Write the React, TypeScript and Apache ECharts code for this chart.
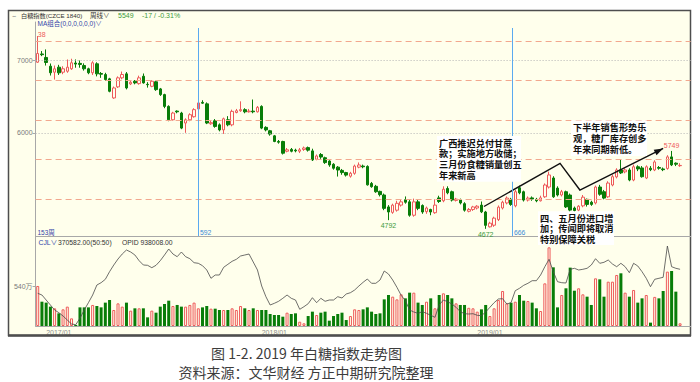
import React, { useEffect, useRef } from 'react';
import * as echarts from 'echarts';

// ---------------- data ----------------
const firstWeek = '2016-12-02';
const closedWeeks = ['2017-10-06', '2018-10-05', '2019-02-08'];

const opens = [
  6976, 7090, 7042, 6921, 6838, 6907, 6838, 6851, 6885, 6965,
  6960, 6930, 6885, 6830, 6954, 6820, 6805, 6746, 6482, 6635,
  6760, 6815, 6676, 6713, 6680, 6782, 6670, 6643, 6705, 6607,
  6528, 6365, 6180, 6300, 6273, 6135, 6180, 6222, 6330, 6420,
  6400, 6125, 6167, 6110, 6040, 6180, 6110, 6280, 6305, 6320,
  6290, 6300, 6290, 6365, 6075, 6028, 5958, 5880, 5880, 5745,
  5770, 5760, 5745, 5770, 5795, 5750, 5635, 5700, 5655, 5610,
  5565, 5525, 5480, 5450, 5400, 5440, 5525, 5540, 5535, 5300,
  5260, 5190, 5140, 4975, 4900, 4930, 5000, 5075, 5045, 4860,
  5045, 4995, 4910, 4940, 4895, 5100, 5060, 5230, 5185, 5065,
  5070, 5020, 4915, 4940, 4960, 5000, 4905, 4700, 4722, 4800,
  4960, 5030, 5080, 4990, 5240, 5185, 5070, 5100, 5080, 5060,
  5115, 5250, 5375, 5235, 5140, 5185, 5139, 4960, 4931, 4990,
  5080, 5040, 5030, 5250, 5185, 5115, 5278, 5390, 5486, 5460,
  5486, 5347, 5530, 5514, 5375, 5510, 5486, 5520, 5500, 5507,
  5667, 5580, 5545,
];
const closes = [
  7097, 7080, 6972, 6830, 6885, 6829, 6885, 6907, 6968, 6950,
  6945, 6885, 6830, 6968, 6815, 6810, 6736, 6574, 6620, 6760,
  6806, 6620, 6699, 6690, 6760, 6690, 6665, 6713, 6597, 6528,
  6365, 6180, 6273, 6290, 6065, 6180, 6250, 6320, 6413, 6410,
  6135, 6140, 6088, 6040, 6194, 6110, 6296, 6305, 6320, 6290,
  6300, 6290, 6352, 6065, 6040, 5982, 5880, 5870, 5718, 5765,
  5745, 5750, 5765, 5790, 5760, 5625, 5680, 5665, 5588, 5555,
  5510, 5485, 5450, 5415, 5440, 5540, 5555, 5530, 5280, 5255,
  5185, 5145, 4955, 4905, 5000, 5025, 5045, 5040, 4860, 5045,
  4955, 4905, 4960, 4905, 5000, 5050, 5220, 5170, 5070, 5083,
  5030, 4930, 4940, 4975, 4985, 4907, 4720, 4750, 4820, 4972,
  5040, 5097, 5010, 5185, 5170, 5070, 5097, 5085, 5060, 5100,
  5278, 5417, 5115, 5140, 5185, 4975, 4931, 4925, 4985, 5110,
  5010, 5010, 5250, 5150, 5097, 5305, 5393, 5486, 5445, 5486,
  5347, 5530, 5500, 5393, 5530, 5490, 5597, 5510, 5490, 5667,
  5556, 5566, 5549,
];
const lows = [
  6965, 7060, 6930, 6792, 6736, 6800, 6810, 6830, 6870, 6900,
  6900, 6860, 6810, 6800, 6780, 6760, 6720, 6560, 6470, 6620,
  6740, 6600, 6660, 6670, 6665, 6680, 6625, 6630, 6580, 6510,
  6340, 6160, 6170, 6270, 6050, 6000, 6160, 6210, 6310, 6400,
  6120, 6110, 6070, 6020, 5985, 6090, 6090, 6270, 6290, 6270,
  6280, 6270, 6280, 6050, 6020, 5960, 5870, 5850, 5700, 5730,
  5730, 5730, 5720, 5750, 5740, 5610, 5620, 5640, 5570, 5530,
  5490, 5395, 5420, 5395, 5380, 5420, 5510, 5510, 5270, 5240,
  5170, 5120, 4930, 4792, 4880, 4910, 4980, 5020, 4840, 4840,
  4930, 4880, 4880, 4860, 4880, 5030, 5040, 5150, 5050, 5050,
  5010, 4910, 4900, 4920, 4940, 4890, 4672, 4690, 4700, 4780,
  4940, 5010, 4990, 4970, 5150, 5050, 5050, 5060, 5040, 5050,
  5100, 5230, 5100, 5120, 5120, 4960, 4900, 4900, 4910, 4970,
  4980, 4990, 5010, 5130, 5080, 5100, 5260, 5370, 5430, 5440,
  5330, 5330, 5470, 5380, 5360, 5470, 5470, 5490, 5470, 5490,
  5540, 5540, 5530,
];
const highs = [
  7338, 7130, 7153, 6958, 6930, 6940, 6920, 7014, 7024, 7014,
  7000, 6960, 6900, 6990, 6975, 6840, 6830, 6760, 6640, 6780,
  6847, 6840, 6720, 6730, 6790, 6820, 6700, 6730, 6720, 6620,
  6540, 6380, 6290, 6310, 6290, 6200, 6270, 6340, 6430, 6450,
  6420, 6170, 6190, 6130, 6210, 6230, 6320, 6330, 6435, 6340,
  6330, 6460, 6370, 6380, 6090, 6040, 5970, 5900, 5890, 5790,
  5790, 5780, 5790, 5810, 5810, 5780, 5700, 5720, 5670, 5620,
  5580, 5540, 5500, 5460, 5460, 5560, 5590, 5560, 5550, 5320,
  5280, 5200, 5160, 5000, 5020, 5060, 5080, 5120, 5070, 5090,
  5080, 5010, 4980, 4950, 5080, 5130, 5260, 5260, 5200, 5100,
  5090, 5040, 4960, 4990, 5000, 5050, 4920, 4770, 4840, 4995,
  5060, 5120, 5100, 5210, 5270, 5200, 5120, 5120, 5100, 5130,
  5300, 5463, 5400, 5260, 5210, 5200, 5160, 4980, 5000, 5140,
  5090, 5060, 5270, 5280, 5210, 5330, 5420, 5510, 5625, 5510,
  5510, 5560, 5550, 5540, 5550, 5540, 5620, 5540, 5520, 5690,
  5749, 5590, 5580,
];
// weekly volume, 万手
const volumes = [
  550, 334, 321, 266, 243, 174, 229, 266, 105, 14,
  256, 256, 256, 289, 275, 256, 321, 357, 220, 311,
  266, 321, 211, 243, 243, 243, 119, 211, 183, 266,
  302, 348, 275, 289, 266, 266, 289, 321, 243, 256,
  275, 238, 238, 220, 220, 220, 243, 220, 275, 243,
  220, 243, 220, 220, 220, 165, 151, 151, 128, 183,
  165, 174, 59, 37, 137, 197, 151, 183, 197, 73,
  137, 165, 183, 82, 137, 229, 220, 229, 256, 197,
  165, 174, 366, 426, 403, 366, 435, 380, 458, 458,
  321, 289, 334, 380, 243, 426, 449, 426, 380, 311,
  289, 289, 250, 243, 197, 229, 289, 137, 243, 357,
  481, 311, 321, 334, 426, 348, 343, 321, 243, 206,
  586, 1081, 806, 256, 426, 518, 802, 485, 518, 435,
  403, 289, 655, 641, 403, 609, 609, 701, 724, 458,
  403, 495, 321, 380, 426, 46, 400, 380, 481, 747,
  756, 472, 37.0582,
];
// open interest, 万手
const openInterest = [
  69.8, 68.1, 63.1, 58.1, 53.1, 50.4, 47.1, 43.1, 39.1, 38.4,
  44.8, 53.1, 60.4, 68.1, 78.1, 80.4, 83.8, 91.4, 98.1, 104.1,
  109.1, 113.1, 111.1, 108.1, 102.4, 98.1, 97.8, 95.4, 97.8, 102.4,
  108.1, 114.1, 109.1, 106.4, 111.1, 106.4, 104.4, 100.4, 99.8, 97.4,
  93.1, 84.8, 88.1, 88.1, 95.8, 98.8, 101.8, 103.8, 107.1, 108.1,
  109.1, 101.1, 93.1, 77.1, 66.4, 58.1, 59.8, 61.8, 64.8, 68.1,
  64.8, 63.1, 53.8, 56.4, 59.4, 65.4, 60.4, 64.8, 61.8, 63.1,
  63.1, 66.4, 65.1, 69.1, 70.4, 73.1, 77.1, 80.8, 84.1, 79.8,
  79.8, 83.1, 92.1, 89.1, 83.1, 75.8, 67.8, 62.4, 53.1, 51.1,
  49.8, 51.4, 49.8, 47.8, 45.8, 58.1, 63.1, 61.4, 59.1, 55.8,
  51.4, 49.4, 49.1, 49.4, 47.8, 47.4, 51.1, 55.8, 60.4, 64.1,
  64.4, 59.1, 60.4, 72.4, 74.8, 77.8, 79.8, 82.4, 82.4, 88.1,
  96.4, 103.8, 91.4, 81.4, 80.4, 80.1, 93.8, 94.8, 93.1, 93.8,
  94.8, 98.1, 104.4, 99.8, 100.8, 103.1, 99.1, 96.4, 99.8, 96.4,
  90.4, 99.8, 97.1, 91.4, 84.8, 76.4, 83.8, 84.8, 85.8, 117.1,
  96.4, 94.8, 93.8008,
];

const dashedLevels = [7260, 6721, 6173, 5628, 5077];
const dottedLevels = [6000, 7000];
const priceTicks = [6000, 7000];
const volumeTicks = [540];
const markedWeeks = [
  { index: 38, text: '592' },
  { index: 112, text: '666' },
];
const extremeLabels = [
  { index: 0, field: 'high', clip: true },
  { index: 83, field: 'low', clip: false },
  { index: 106, field: 'low', clip: false },
  { index: 150, field: 'high', clip: false },
];
const notes = [
  { lines: ['广西推迟兑付甘蔗', '款；实施地方收储；', '三月份食糖销量创五', '年来新高'], x: 439, y: 142.5, lh: 10.9, w: 84 },
  { lines: ['下半年销售形势乐', '观，糖厂库存创多', '年来同期新低。'], x: 573, y: 127, lh: 11.2, w: 76 },
  { lines: ['四、五月份进口增', '加；传闻即将取消', '特别保障关税'], x: 540, y: 217.6, lh: 10.6, w: 76 },
];
// trend arrow, in (week index, price)
const trendPoints = [
  [105.6, 4981],
  [123.6, 5578],
  [128.3, 5209],
  [148.0, 5783],
];
const captionTitle = '图 1-2. 2019 年白糖指数走势图';
const captionSource = '资料来源：文华财经 方正中期研究院整理';

// ---------------- styling ----------------
const FONT = "'Liberation Sans', 'Noto Sans CJK SC', sans-serif";
const CJK = "'Noto Sans CJK SC', sans-serif";
const BG = '#FFFFEC';
const UP = '#EE5A5A';
const DOWN = '#087D08';
const LABEL_GREEN = '#3C9A3C';
const BLUE_TXT = '#3344A8';
const MARK_BLUE = '#5AAAF0';

function weekDates(count: number): string[] {
  const out: string[] = [];
  const d = new Date(firstWeek + 'T00:00:00Z');
  while (out.length < count) {
    const s = d.toISOString().slice(0, 10);
    if (!closedWeeks.includes(s)) out.push(s);
    d.setUTCDate(d.getUTCDate() + 7);
  }
  return out;
}

export default function App() {
  const ref = useRef<HTMLDivElement>(null);

  useEffect(() => {
    document.body.style.margin = '0';
    const chart = echarts.init(ref.current as HTMLDivElement, null, { renderer: 'svg' });

    const weeks = weekDates(opens.length);
    const cats = [...weeks, '', ''];
    const band = 4.226;
    const gridLeft = 35.6;
    const gridWidth = band * cats.length;

    const candleData = opens.map((o, i) => [o, closes[i], lows[i], highs[i]]);
    const volData = volumes.map((v, i) => ({
      value: v,
      itemStyle:
        closes[i] >= opens[i]
          ? { color: BG, borderColor: UP, borderWidth: 1 }
          : { color: DOWN, borderColor: DOWN, borderWidth: 0 },
    }));

    const markLineData: any[] = [
      ...dashedLevels.map((v) => ({
        yAxis: v,
        lineStyle: { color: '#F2A88E', width: 1, type: [6, 4] },
      })),
      ...dottedLevels.map((v) => ({
        yAxis: v,
        lineStyle: { color: '#B5B5B5', width: 1, type: [1, 2] },
      })),
    ];

    const markPointData = extremeLabels.map((e) => {
      const v = e.field === 'high' ? highs[e.index] : lows[e.index];
      const isHigh = e.field === 'high';
      return {
        coord: [cats[e.index], v],
        label: {
          show: true,
          position: isHigh ? 'top' : 'bottom',
          distance: e.clip ? 0.5 : 1.5,
          formatter: e.clip ? String(v).slice(-2) : String(v),
          color: isHigh ? UP : LABEL_GREEN,
          fontSize: 7,
          fontFamily: FONT,
          offset: e.clip ? [4, 2.5] : [0, 0],
        },
      };
    });

    const option: any = {
      animation: false,
      backgroundColor: '#FFFFFF',
      tooltip: { show: false },
      axisPointer: { show: false },
      grid: [
        { left: gridLeft, top: 22, width: gridWidth, height: 214, outerBoundsMode: 'none' },
        { left: gridLeft, top: 236, width: gridWidth, height: 90, outerBoundsMode: 'none' },
      ],
      xAxis: [
        {
          type: 'category',
          gridIndex: 0,
          data: cats,
          boundaryGap: true,
          axisLine: { show: true, lineStyle: { color: '#A8A8A8', width: 1 } },
          axisTick: { show: false },
          axisLabel: { show: false },
          splitLine: { show: false },
          axisPointer: { show: false },
        },
        {
          type: 'category',
          gridIndex: 1,
          data: cats,
          boundaryGap: true,
          axisLine: { show: true, lineStyle: { color: '#A8A8A8', width: 1 } },
          axisTick: { show: false },
          axisLabel: {
            show: true,
            interval: (_i: number, value: string) =>
              !!value && value.slice(5, 7) === '01' && Number(value.slice(8, 10)) <= 7,
            formatter: (value: string) => (value ? value.slice(0, 4) + '/01' : ''),
            fontSize: 7,
            color: '#909090',
            fontFamily: FONT,
            margin: 2.5,
          },
          splitLine: { show: false },
          axisPointer: { show: false },
        },
      ],
      yAxis: [
        {
          type: 'value',
          gridIndex: 0,
          min: 4573,
          max: 7532,
          axisLine: { show: true, lineStyle: { color: '#A8A8A8', width: 1 } },
          axisTick: { show: true, length: 3, customValues: priceTicks, lineStyle: { color: '#A8A8A8' } },
          axisLabel: {
            show: true,
            customValues: priceTicks,
            formatter: (v: number) => String(v),
            fontSize: 7,
            color: '#7A7A7A',
            fontFamily: FONT,
            margin: 3,
          },
          splitLine: { show: false },
        },
        {
          type: 'value',
          gridIndex: 1,
          min: 0,
          max: 1236.6,
          axisLine: { show: true, lineStyle: { color: '#A8A8A8', width: 1 } },
          axisTick: { show: true, length: 3, customValues: volumeTicks, lineStyle: { color: '#A8A8A8' } },
          axisLabel: {
            show: true,
            customValues: volumeTicks,
            formatter: (v: number) => String(v) + '万',
            fontSize: 7,
            color: '#7A7A7A',
            fontFamily: FONT,
            margin: 3,
          },
          splitLine: { show: false },
        },
        {
          type: 'value',
          gridIndex: 1,
          min: 37.1,
          max: 127.1,
          show: false,
          splitLine: { show: false },
        },
      ],
      series: [
        {
          type: 'candlestick',
          name: '白糖指数',
          xAxisIndex: 0,
          yAxisIndex: 0,
          data: candleData,
          barWidth: 3,
          itemStyle: {
            color: BG,
            color0: DOWN,
            borderColor: UP,
            borderColor0: DOWN,
            borderWidth: 1,
          },
          markLine: {
            silent: true,
            symbol: ['none', 'none'],
            label: { show: false },
            data: markLineData,
          },
          markPoint: {
            silent: true,
            symbol: 'circle',
            symbolSize: 1,
            itemStyle: { color: 'rgba(0,0,0,0)' },
            data: markPointData,
          },
        },
        {
          type: 'bar',
          name: 'CJL',
          xAxisIndex: 1,
          yAxisIndex: 1,
          data: volData,
          barWidth: 3,
        },
        {
          type: 'line',
          name: 'OPID',
          xAxisIndex: 1,
          yAxisIndex: 2,
          data: openInterest,
          showSymbol: false,
          symbol: 'none',
          lineStyle: { color: '#4A4A4A', width: 0.8 },
          z: 5,
        },
      ],
    };

    chart.setOption(option);

    const toPx = (idx: number, val: number) => {
      const p0 = chart.convertToPixel({ gridIndex: 0 }, [0, val]) as number[];
      const p1 = chart.convertToPixel({ gridIndex: 0 }, [1, val]) as number[];
      return [p0[0] + (p1[0] - p0[0]) * idx, p0[1]];
    };

    const last = closes.length - 1;
    const chg = closes[last] - closes[last - 1];
    const pct = (chg / closes[last - 1]) * 100;
    const volText = (volumes[last] * 10000).toFixed(2);
    const oiText = (openInterest[last] * 10000).toFixed(2);

    const txt = (text: string, x: number, y: number, color: string, size = 7, extra: any = {}) => ({
      type: 'text',
      z: 60,
      silent: true,
      style: {
        text,
        x,
        y,
        fill: color,
        fontSize: size,
        fontFamily: FONT,
        align: 'left',
        textAlign: 'left',
        verticalAlign: 'middle',
        textVerticalAlign: 'middle',
        ...extra,
      },
    });

    const elements: any[] = [
      {
        type: 'rect',
        z: -100,
        silent: true,
        shape: { x: 8.5, y: 10.5, width: 682, height: 325 },
        style: { fill: BG, stroke: '#4E4E4E', lineWidth: 1.5 },
      },
      {
        type: 'line',
        z: 60,
        silent: true,
        shape: { x1: 8, y1: 335.5, x2: 691, y2: 335.5 },
        style: { stroke: '#4E4E4E', lineWidth: 2.5 },
      },
      txt('⇔', 11, 15.7, '#777777', 6.5),
      txt('白糖指数(CZCE 1840)', 21, 15.7, '#333333', 6.2),
      txt('周线∨', 90, 15.7, '#333333', 6.5),
      txt(String(closes[last]), 118, 15.7, LABEL_GREEN, 7),
      txt(`${chg} / ${pct.toFixed(2)}%`, 142, 15.7, LABEL_GREEN, 7),
      txt('MA组合(0,0,0,0,0,0)∨', 37.5, 23.3, BLUE_TXT, 6.5),
      txt('153周', 37.5, 232.2, BLUE_TXT, 6.5),
      txt('CJL∨', 38.5, 242.7, BLUE_TXT, 6.8),
      txt(`${volText}(50:50)`, 58, 242.7, '#333333', 6.8),
      txt(`OPID ${oiText}`, 122, 242.7, '#333333', 6.8),
    ];

    // vertical marker lines with their labels (snapped to even pixel columns)
    markedWeeks.forEach((m) => {
      const pTop = toPx(m.index, 7532);
      const pBot = toPx(m.index, 4573);
      const x = 2 * Math.round(pTop[0] / 2) + 0.5;
      elements.push({
        type: 'line',
        z: 80,
        silent: true,
        shape: { x1: x, y1: pTop[1] + 6, x2: x, y2: pBot[1] },
        style: { stroke: MARK_BLUE, lineWidth: 1, opacity: 1 },
      });
      elements.push(txt(m.text, x + 1.5, 232.2, '#3A8AD8', 6.8));
    });

    // trend arrow
    const pts = trendPoints.map((p) => toPx(p[0], p[1]));
    elements.push({
      type: 'polyline',
      z: 55,
      silent: true,
      shape: { points: pts },
      style: { stroke: '#111111', lineWidth: 1.4, fill: null },
    });
    const a = pts[pts.length - 2];
    const b = pts[pts.length - 1];
    const dx = b[0] - a[0];
    const dy = b[1] - a[1];
    const len = Math.sqrt(dx * dx + dy * dy);
    const ux = dx / len;
    const uy = dy / len;
    const hl = 9;
    const hw = 3.2;
    const base = [b[0] - ux * hl, b[1] - uy * hl];
    elements.push({
      type: 'polygon',
      z: 56,
      silent: true,
      shape: {
        points: [
          [b[0], b[1]],
          [base[0] - uy * hw, base[1] + ux * hw],
          [base[0] + uy * hw, base[1] - ux * hw],
        ],
      },
      style: { fill: '#111111' },
    });

    // annotation boxes: white rect + one text per line
    notes.forEach((n) => {
      const h = n.lh * n.lines.length;
      elements.push({
        type: 'rect',
        z: 85,
        silent: true,
        shape: { x: n.x - 2, y: n.y - n.lh / 2 - 1, width: n.w, height: h + 2 },
        style: { fill: '#FFFFFF' },
      });
      n.lines.forEach((line, k) => {
        elements.push({
          type: 'text',
          z: 90,
          silent: true,
          style: {
            text: line,
            x: n.x,
            y: n.y + k * n.lh,
            fill: '#111111',
            fontSize: 9.2,
            fontWeight: 'bold',
            fontFamily: CJK,
            align: 'left',
            textAlign: 'left',
            verticalAlign: 'middle',
            textVerticalAlign: 'middle',
          },
        });
      });
    });

    elements.push({
      type: 'text',
      z: 60,
      silent: true,
      style: {
        text: captionTitle,
        x: 306.5,
        y: 352.7,
        fill: '#3C3C3C',
        fontSize: 14,
        fontFamily: CJK,
        align: 'center',
        textAlign: 'center',
        verticalAlign: 'middle',
        textVerticalAlign: 'middle',
      },
    });
    elements.push({
      type: 'text',
      z: 60,
      silent: true,
      style: {
        text: captionSource,
        x: 306,
        y: 371.7,
        fill: '#3C3C3C',
        fontSize: 14,
        fontFamily: CJK,
        align: 'center',
        textAlign: 'center',
        verticalAlign: 'middle',
        textVerticalAlign: 'middle',
      },
    });

    chart.setOption({ graphic: { elements } });

    return () => {
      chart.dispose();
    };
  }, []);

  return <div ref={ref} style={{ width: 700, height: 382 }} />;
}
